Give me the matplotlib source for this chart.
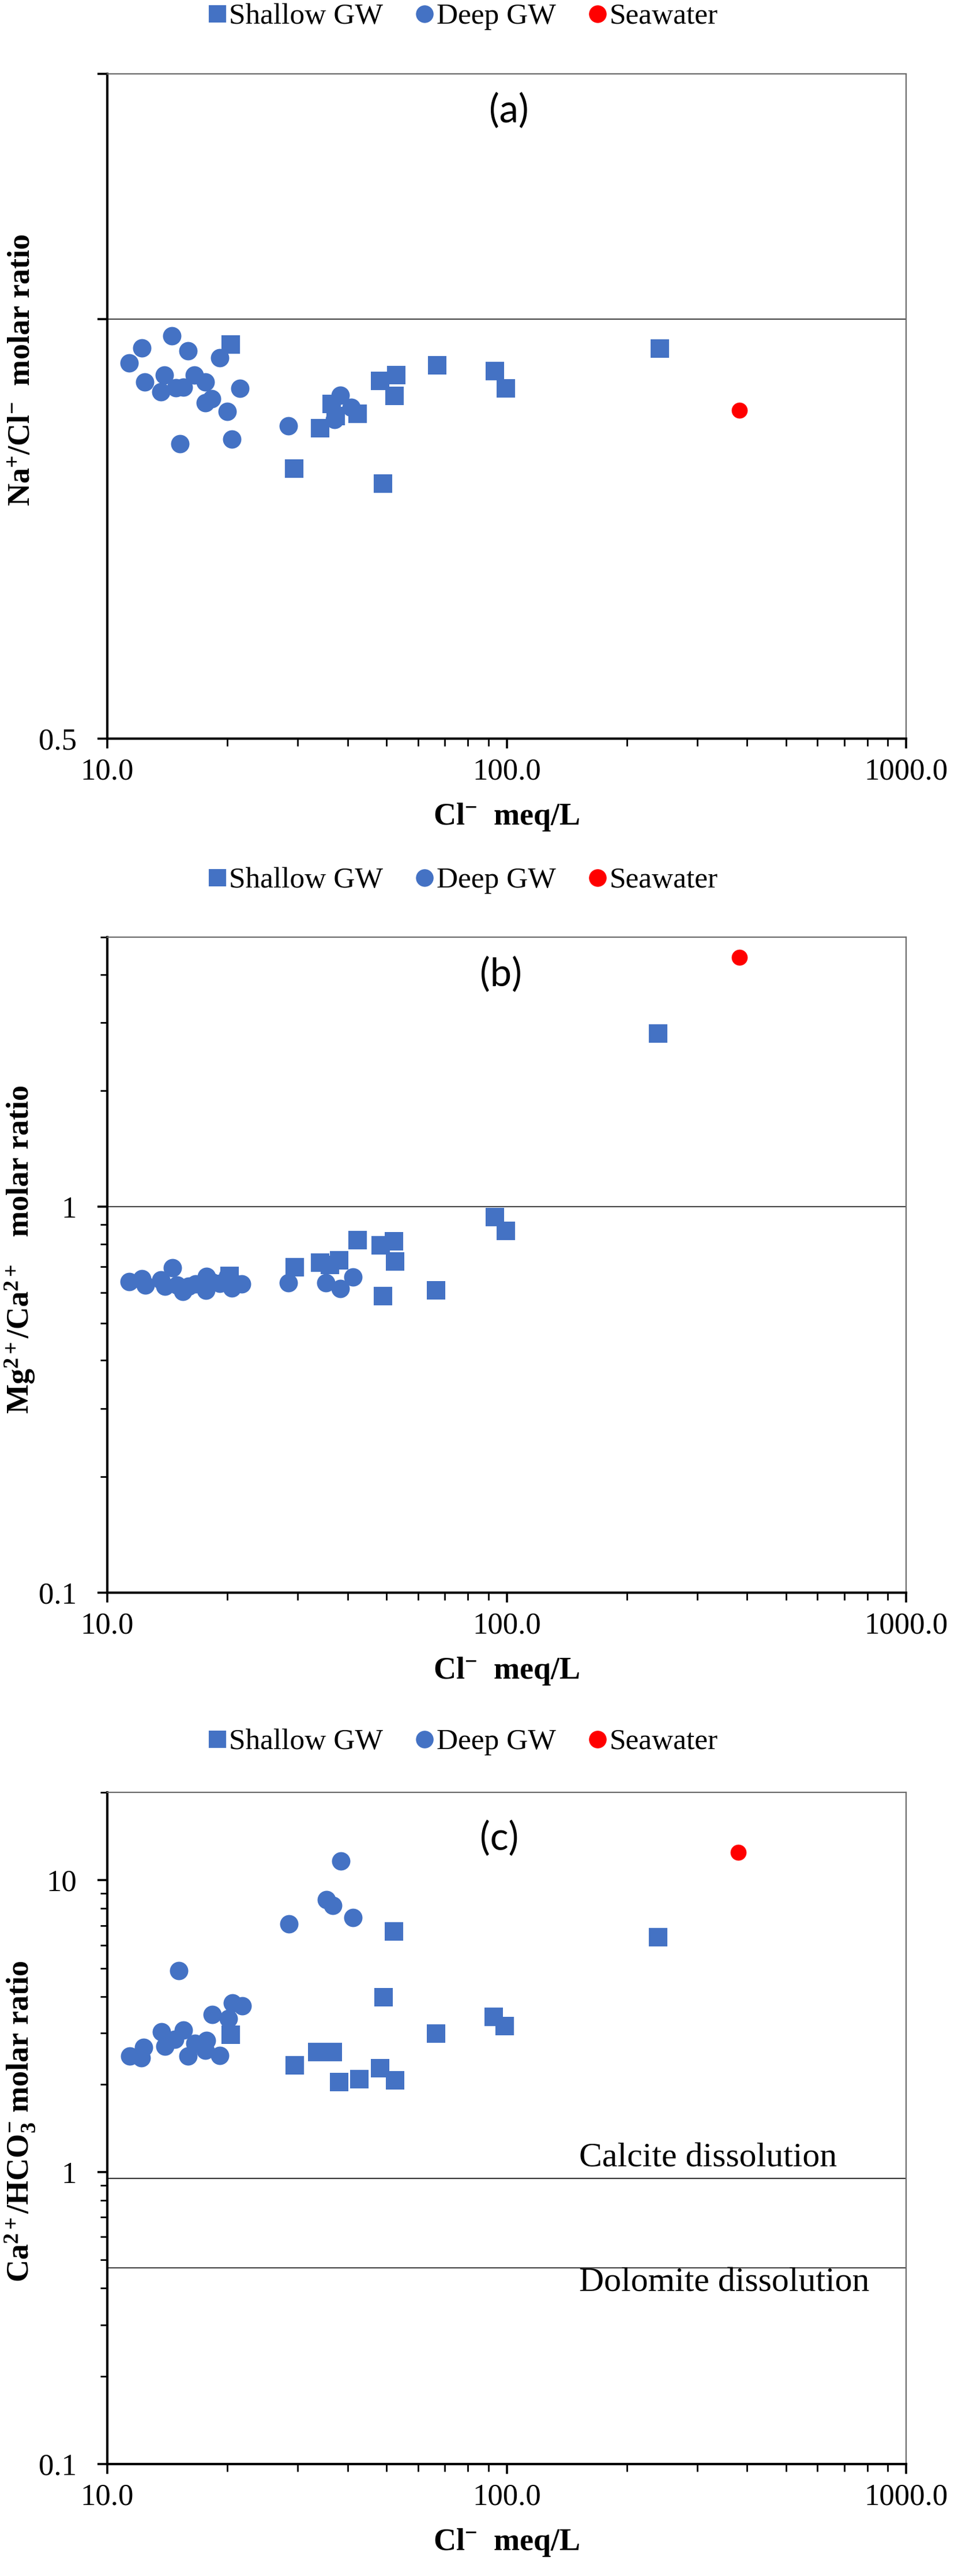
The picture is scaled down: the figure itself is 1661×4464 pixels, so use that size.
import matplotlib
matplotlib.use('Agg')
import matplotlib.pyplot as plt
from matplotlib.lines import Line2D
from matplotlib.ticker import LogLocator, FixedLocator, NullFormatter, NullLocator

plt.rcParams['font.family'] = ['Liberation Serif', 'DejaVu Serif']
plt.rcParams['mathtext.fontset'] = 'custom'
plt.rcParams['mathtext.rm'] = 'Liberation Serif'
plt.rcParams['mathtext.bf'] = 'Liberation Serif:bold'
plt.rcParams['mathtext.it'] = 'Liberation Serif:italic'

BLUE = '#4472C4'
RED = '#FF0000'

# ---- panel (a): Na+/Cl- ----
a_shallow_cl = [20.38, 29.39, 34.08, 36.44, 37.35, 42.40, 48.14, 48.99, 52.39, 52.95, 67.05, 93.36, 99.47, 241.6]
a_shallow_ratio = [0.959, 0.781, 0.835, 0.869, 0.852, 0.855, 0.903, 0.762, 0.881, 0.912, 0.927, 0.918, 0.892, 0.953]
a_deep_cl = [11.35, 12.22, 12.41, 13.64, 13.91, 14.53, 14.84, 15.21, 15.53, 15.92, 16.51,
             17.57, 17.61, 18.26, 19.12, 19.98, 20.52, 21.48, 28.38, 37.09, 38.29, 40.79]
a_deep_ratio = [0.930, 0.954, 0.901, 0.887, 0.912, 0.973, 0.893, 0.814, 0.894, 0.949, 0.912,
                0.901, 0.871, 0.877, 0.938, 0.859, 0.820, 0.892, 0.838, 0.847, 0.882, 0.864]
a_sea_cl = [382.0]
a_sea_ratio = [0.860]

# ---- panel (b): Mg2+/Ca2+ ----
b_shallow_cl = [20.26, 29.49, 34.13, 36.13, 38.02, 42.36, 48.43, 52.28, 52.60, 49.06, 66.58, 93.36, 99.47, 239.1]
b_shallow_ratio = [0.663, 0.698, 0.718, 0.706, 0.726, 0.819, 0.796, 0.814, 0.722, 0.587, 0.608, 0.941, 0.867, 2.81]
b_deep_cl = [11.35, 12.22, 12.44, 13.64, 13.93, 14.58, 14.94, 15.48, 15.97, 16.61, 17.69,
             17.63, 18.33, 19.12, 20.02, 20.52, 20.59, 21.71, 28.38, 35.30, 38.29, 41.22]
b_deep_ratio = [0.641, 0.651, 0.627, 0.647, 0.623, 0.696, 0.627, 0.603, 0.623, 0.631, 0.661,
                0.607, 0.637, 0.633, 0.663, 0.617, 0.641, 0.631, 0.635, 0.635, 0.613, 0.657]
b_sea_cl = [382.0]
b_sea_ratio = [4.43]

# ---- panel (c): Ca2+/HCO3- ----
c_shallow_cl = [20.38, 29.50, 33.60, 36.70, 38.02, 42.71, 48.14, 49.17, 52.21, 52.57, 66.58, 92.70, 98.77, 239.1]
c_shallow_ratio = [2.96, 2.32, 2.58, 2.58, 2.04, 2.08, 2.27, 3.97, 6.67, 2.06, 2.99, 3.41, 3.16, 6.39]
c_deep_cl = [11.37, 12.15, 12.35, 13.65, 13.95, 14.75, 15.12, 15.50, 15.94, 16.58, 17.62,
             17.72, 18.31, 19.14, 20.12, 20.57, 21.75, 28.48, 35.43, 36.70, 38.42, 41.22]
c_deep_ratio = [2.50, 2.46, 2.68, 3.02, 2.70, 2.85, 4.91, 3.07, 2.50, 2.76, 2.62,
                2.82, 3.46, 2.51, 3.36, 3.80, 3.72, 7.10, 8.58, 8.21, 11.66, 7.45]
c_sea_cl = [380.0]
c_sea_ratio = [12.46]

calcite_line = 0.95
dolomite_line = 0.47

series_labels = ['Shallow GW', 'Deep GW', 'Seawater']
x_ticks = [10, 100, 1000]
x_ticklabels = ['10.0', '100.0', '1000.0']

W, H = 1661, 4464
fig = plt.figure(figsize=(W / 100, H / 100), dpi=100)


def px_axes(left, top, right, bottom):
    return fig.add_axes([left / W, 1 - bottom / H, (right - left) / W, (bottom - top) / H])


def style_axes(ax):
    ax.set_xscale('log')
    ax.set_yscale('log')
    ax.set_xlim(10, 1000)
    ax.xaxis.set_major_locator(FixedLocator(x_ticks))
    ax.set_xticklabels(x_ticklabels)
    ax.xaxis.set_minor_locator(LogLocator(base=10, subs=range(2, 10)))
    ax.xaxis.set_minor_formatter(NullFormatter())
    for side in ['left', 'bottom']:
        ax.spines[side].set_linewidth(3.0)
        ax.spines[side].set_color('black')
    for side in ['top', 'right']:
        ax.spines[side].set_linewidth(1.6)
        ax.spines[side].set_color('#6a6a6a')
    ax.tick_params(axis='both', which='major', direction='out', length=12, width=2.6,
                   labelsize=38, color='black')
    ax.tick_params(axis='both', which='minor', direction='out', length=9, width=2.0, color='black')
    ax.tick_params(axis='x', which='major', pad=12)
    ax.tick_params(axis='y', which='major', pad=26)
    ax.tick_params(top=False, right=False, which='both')


def draw_points(ax, sh_x, sh_y, dp_x, dp_y, sw_x, sw_y):
    ax.plot(sh_x, sh_y, ls='none', marker='s', ms=23, mfc=BLUE, mec=BLUE, mew=0, zorder=3)
    ax.plot(dp_x, dp_y, ls='none', marker='o', ms=23, mfc=BLUE, mec=BLUE, mew=0, zorder=4)
    ax.plot(sw_x, sw_y, ls='none', marker='o', ms=20, mfc=RED, mec=RED, mew=0, zorder=5)


def add_legend(ycen):
    handles = [
        Line2D([], [], ls='none', marker='s', ms=22, mfc=BLUE, mec=BLUE, mew=0),
        Line2D([], [], ls='none', marker='o', ms=22, mfc=BLUE, mec=BLUE, mew=0),
        Line2D([], [], ls='none', marker='o', ms=22, mfc=RED, mec=RED, mew=0),
    ]
    fig.legend(handles, series_labels, loc='center', bbox_to_anchor=(803 / W, 1 - ycen / H),
               ncol=3, frameon=False, fontsize=37, handlelength=0.6, handletextpad=0.1,
               columnspacing=1.1, borderaxespad=0, borderpad=0)


xlabel = r'$\mathbf{Cl^{-}}$  meq/L'
label_kw = dict(fontsize=39, fontweight='bold')
panel_kw = dict(fontsize=48, family='Lato', ha='center', va='center')

# panel (a)
ax1 = px_axes(186, 128, 1571, 1280)
style_axes(ax1)
draw_points(ax1, a_shallow_cl, a_shallow_ratio, a_deep_cl, a_deep_ratio, a_sea_cl, a_sea_ratio)
ax1.axhline(1.0, color='#3a3a3a', lw=1.4, zorder=2)
ax1.set_ylim(0.5, 1.5)
ax1.yaxis.set_major_locator(FixedLocator([0.5, 1.0, 1.5]))
ax1.set_yticklabels(['0.5', '', ''])
ax1.yaxis.set_minor_locator(NullLocator())
ax1.set_ylabel(r'$\mathbf{Na^{+}/Cl^{-}}$  molar ratio', **label_kw)
ax1.yaxis.set_label_coords(-0.088, 0.555)
ax1.set_xlabel(xlabel, **label_kw)
ax1.xaxis.set_label_coords(0.5, -0.095)
ax1.text(0.5025, 0.944, '(a)', transform=ax1.transAxes, **panel_kw)
add_legend(29)

# panel (b)
ax2 = px_axes(186, 1624, 1571, 2760)
style_axes(ax2)
draw_points(ax2, b_shallow_cl, b_shallow_ratio, b_deep_cl, b_deep_ratio, b_sea_cl, b_sea_ratio)
ax2.axhline(1.0, color='#3a3a3a', lw=1.4, zorder=2)
ax2.set_ylim(0.1, 5)
ax2.yaxis.set_major_locator(FixedLocator([0.1, 1]))
ax2.set_yticklabels(['0.1', '1'])
ax2.yaxis.set_minor_locator(LogLocator(base=10, subs=range(2, 10)))
ax2.yaxis.set_minor_formatter(NullFormatter())
ax2.set_ylabel(r'$\mathbf{Mg^{2+}/Ca^{2+}}$   molar ratio', **label_kw)
ax2.yaxis.set_label_coords(-0.088, 0.523)
ax2.set_xlabel(xlabel, **label_kw)
ax2.xaxis.set_label_coords(0.5, -0.096)
ax2.text(0.493, 0.942, '(b)', transform=ax2.transAxes, **panel_kw)
add_legend(1526)

# panel (c)
ax3 = px_axes(186, 3106, 1571, 4270)
style_axes(ax3)
draw_points(ax3, c_shallow_cl, c_shallow_ratio, c_deep_cl, c_deep_ratio, c_sea_cl, c_sea_ratio)
ax3.axhline(calcite_line, color='#3a3a3a', lw=1.6, zorder=2)
ax3.axhline(dolomite_line, color='#3a3a3a', lw=1.4, zorder=2)
ax3.set_ylim(0.1, 20)
ax3.yaxis.set_major_locator(FixedLocator([0.1, 1, 10]))
ax3.set_yticklabels(['0.1', '1', '10'])
ax3.yaxis.set_minor_locator(LogLocator(base=10, subs=range(2, 10)))
ax3.yaxis.set_minor_formatter(NullFormatter())
ax3.set_ylabel(r'$\mathbf{Ca^{2+}/HCO_{3}^{-}}$ molar ratio', **label_kw)
ax3.yaxis.set_label_coords(-0.088, 0.510)
ax3.set_xlabel(xlabel, **label_kw)
ax3.xaxis.set_label_coords(0.5, -0.094)
ax3.text(0.491, 0.931, '(c)', transform=ax3.transAxes, **panel_kw)
ax3.text(0.5906, 0.4545, 'Calcite dissolution', transform=ax3.transAxes,
         fontsize=43, ha='left', va='center')
ax3.text(0.5906, 0.269, 'Dolomite dissolution', transform=ax3.transAxes,
         fontsize=43, ha='left', va='center')
add_legend(3019)

fig.savefig('out.png', dpi=100, facecolor='white')
